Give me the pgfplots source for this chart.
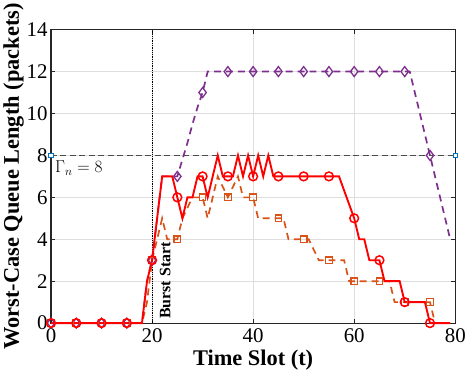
\documentclass[border=0pt]{standalone}
\usepackage{fontspec}
\setmainfont{Liberation Serif}
\usepackage{pgfplots}
\pgfplotsset{compat=1.18}
\definecolor{mred}{RGB}{255,0,0}
\definecolor{morange}{RGB}{217,83,25}
\definecolor{mpurple}{RGB}{126,47,142}
\definecolor{mblue}{RGB}{0,114,189}

\pgfplotstableread{
t red orange purple
0 0 0 0
1 0 0 0
2 0 0 0
3 0 0 0
4 0 0 0
5 0 0 0
6 0 0 0
7 0 0 0
8 0 0 0
9 0 0 0
10 0 0 0
11 0 0 0
12 0 0 0
13 0 0 0
14 0 0 0
15 0 0 0
16 0 0 0
17 0 0 0
18 0 0 0
19 2 1 2
20 3 3 3
21 5 4 5
22 7 5 7
23 7 4 7
24 7 4 7
25 6 4 7
26 5 5 7.8
27 6 5.5 8.6
28 6 6 9.5
29 7 6 10.3
30 7 6 11
31 6 5 12
32 7 6 12
33 8 7 12
34 7 6.5 12
35 7 6 12
36 7 6.5 12
37 8 7 12
38 7 6 12
39 8 6 12
40 7 6 12
41 8 5 12
42 7 5 12
43 8 5 12
44 7 5 12
45 7 5 12
46 7 5 12
47 7 4 12
48 7 4 12
49 7 4 12
50 7 4 12
51 7 4 12
52 7 3.5 12
53 7 3 12
54 7 3 12
55 7 3 12
56 7 3 12
57 7 3 12
58 6.33 3 12
59 5.67 2 12
60 5 2 12
61 4 2 12
62 4 2 12
63 3 2 12
64 3 2 12
65 3 2 12
66 2 2 12
67 2 2 12
68 2 1 12
69 2 1 12
70 1 1 12
71 1 1 12
72 1 1 11
73 1 1 10
74 1 1 9
75 0 1 8
76 0 0 7
77 0 0 6
78 0 0 5
79 0 0 4
}\queuedata

\begin{document}
\begin{tikzpicture}
\begin{axis}[
    scale only axis,
    width=405bp, height=294bp,
    xmin=0, xmax=80, ymin=0, ymax=14,
    xtick={0,20,40,60,80}, ytick={0,2,4,6,8,10,12,14},
    axis line style={black!85, line width=1.1pt},
    tick style={black!85, line width=0.9pt},
    tick align=inside, major tick length=4bp,
    grid=major, grid style={black!13, line width=0.7pt},
    /pgf/number format/assume math mode=true,
    tick label style={font=\fontsize{21}{24}\selectfont},
    xticklabel style={yshift=-2bp},
    xlabel={\textbf{Time Slot (t)}},
    ylabel={\textbf{Worst-Case Queue Length (packets)}},
    label style={font=\fontsize{22.5}{26}\selectfont},
    xlabel style={inner sep=0pt, yshift=-4bp},
    ylabel style={yshift=-4bp},
    clip=false,
]
% threshold
\addplot[black!70, line width=1.1pt, dash pattern=on 6pt off 3.5pt] coordinates {(0,8) (80,8)};
\addplot[only marks, mark=square*, mark size=2.2pt, mblue, mark options={fill=white, line width=0.8pt}] coordinates {(0,8) (80,8)};
% burst start
\addplot[black, line width=0.8pt, densely dotted] coordinates {(20,0) (20,14)};
\node[rotate=90, anchor=west, inner sep=0pt, font=\fontsize{16}{18}\selectfont\bfseries] at (axis cs:22.6,0.2) {Burst Start};
\node[anchor=north west, inner sep=0pt, font=\fontsize{17}{19}\selectfont] at (axis cs:0.8,7.75) {$\Gamma_n = 8$};
% series
\addplot[mpurple, line width=1.7pt, dash pattern=on 7pt off 5pt, mark=diamond, mark size=5pt, mark repeat=5, mark options={solid, line width=1.3pt}] table[x=t, y=purple] {\queuedata};
\addplot[morange, line width=1.7pt, dash pattern=on 7pt off 5pt, mark=square, mark size=3.3pt, mark repeat=5, mark options={solid, line width=1.2pt}] table[x=t, y=orange] {\queuedata};
\addplot[mred, line width=1.9pt, mark=o, mark size=4.4pt, mark repeat=5, mark options={solid, line width=1.5pt}] table[x=t, y=red] {\queuedata};
\end{axis}
\end{tikzpicture}
\end{document}
